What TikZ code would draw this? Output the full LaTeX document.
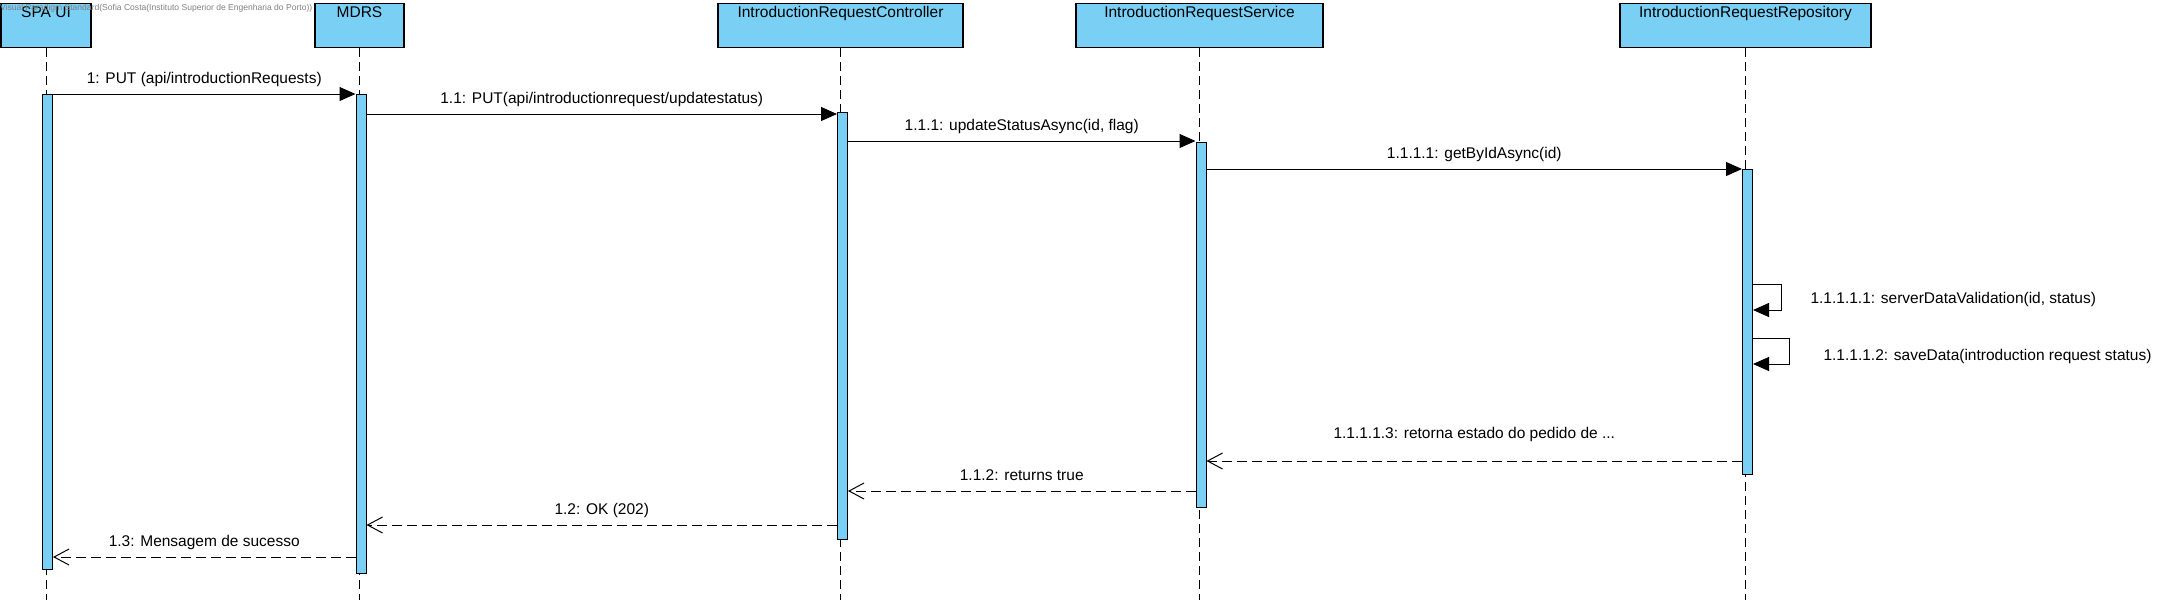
\documentclass[tikz,border=0pt]{standalone}
\usepackage{fontspec}
\setmainfont{Liberation Sans}
\usepackage{xcolor}
\usepackage{tikz}
\usetikzlibrary{arrows.meta,positioning,calc}

\definecolor{vpblue}{RGB}{122,207,245}

\begin{document}
\begin{tikzpicture}[x=1pt, y=-1pt, font=\fontsize{15.5pt}{18pt}\selectfont,
  actor/.style={draw, fill=vpblue, line width=1.2pt, anchor=north, inner xsep=0pt, inner ysep=3pt, text height=11pt, text depth=27pt},
  bar/.style={draw, fill=vpblue, line width=1pt, anchor=north, minimum width=10pt, inner sep=0pt},
  life/.style={line width=1pt, dash pattern=on 9pt off 5pt},
  call/.style={line width=1pt, -{Triangle[length=16pt,width=14pt]}},
  reply/.style={line width=1pt, dash pattern=on 10pt off 5pt, -{Straight Barb[length=15pt,width=16pt,line width=1pt]}},
  msg/.style={midway, anchor=base, yshift=11pt}]

\useasboundingbox (0,0) rectangle (2164,603);

\node[actor, minimum width=90pt]  (SPA)  at (46,3)     {SPA UI};
\node[actor, minimum width=89pt]  (MDRS) at (359.5,3)  {MDRS};
\node[actor, minimum width=245pt] (Ctrl) at (840.5,3)  {IntroductionRequestController};
\node[actor, minimum width=247pt] (Serv) at (1199.5,3) {IntroductionRequestService};
\node[actor, minimum width=251pt] (Repo) at (1745.5,3) {IntroductionRequestRepository};

\node[anchor=base west, inner sep=0pt, text=black!50, font=\fontsize{8.55pt}{10pt}\selectfont] (VP) at (0,10)
  {Visual Paradigm Standard(Sofia Costa(Instituto Superior de Engenharia do Porto))};

\coordinate (SPAend)  at (SPA.south |- 0,600);
\coordinate (MDRSend) at (MDRS.south |- 0,600);
\coordinate (Ctrlend) at (Ctrl.south |- 0,600);
\coordinate (Servend) at (Serv.south |- 0,600);
\coordinate (Repoend) at (Repo.south |- 0,600);

\draw[life] (SPA)  -- (SPAend);
\draw[life] (MDRS) -- (MDRSend);
\draw[life] (Ctrl) -- (Ctrlend);
\draw[life] (Serv) -- (Servend);
\draw[life] (Repo) -- (Repoend);

\node[bar, minimum height=475pt] (SPAbar)  at (47.5,94)  {};
\node[bar, minimum height=479pt] (MDRSbar) at (361,94)   {};
\node[bar, minimum height=427pt] (Ctrlbar) at (842.5,112) {};
\node[bar, minimum height=365pt] (Servbar) at (1201,142) {};
\node[bar, minimum height=305pt] (Repobar) at (1747.5,169) {};

\path (SPAbar.east |- 0,94)   edge[call] node[msg] {1: PUT (api/introductionRequests)}               (MDRSbar.west |- 0,94);
\path (MDRSbar.east |- 0,114) edge[call] node[msg] {1.1: PUT(api/introductionrequest/updatestatus)} (Ctrlbar.west |- 0,114);
\path (Ctrlbar.east |- 0,141) edge[call] node[msg] {1.1.1: updateStatusAsync(id, flag)}             (Servbar.west |- 0,141);
\path (Servbar.east |- 0,169) edge[call] node[msg] {1.1.1.1: getByIdAsync(id)}                      (Repobar.west |- 0,169);

\draw[call] (Repobar.east |- 0,284) -- ++(28.5,0) -- ++(0,26) -- (Repobar.east |- 0,310);
\node[anchor=base west] (Valid) at (1807,303) {1.1.1.1.1: serverDataValidation(id, status)};

\draw[call] (Repobar.east |- 0,338) -- ++(36.5,0) -- ++(0,26) -- (Repobar.east |- 0,364);
\node[anchor=base west] (Save) at (1820,360) {1.1.1.1.2: saveData(introduction request status)};

\path (Repobar.west |- 0,461) edge[reply] node[msg, yshift=12pt] {1.1.1.1.3: retorna estado do pedido de ...} (Servbar.east |- 0,461);
\path (Servbar.west |- 0,491) edge[reply] node[msg] {1.1.2: returns true}      (Ctrlbar.east |- 0,491);
\path (Ctrlbar.west |- 0,525) edge[reply] node[msg] {1.2: OK (202)}            (MDRSbar.east |- 0,525);
\path (MDRSbar.west |- 0,557) edge[reply] node[msg] {1.3: Mensagem de sucesso} (SPAbar.east |- 0,557);

\end{tikzpicture}
\end{document}
